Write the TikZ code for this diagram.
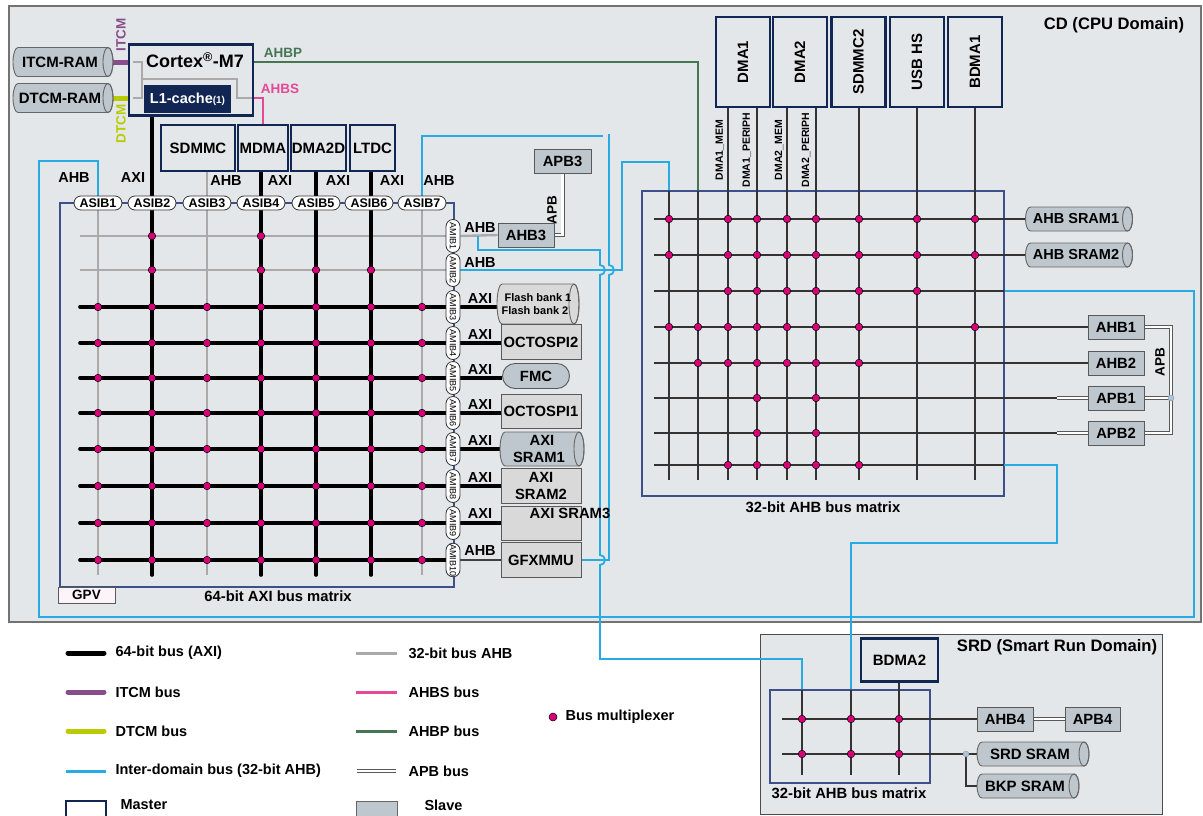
\documentclass[tikz,border=0pt]{standalone}
\usepackage{fontspec}
\usepackage{graphicx}
\setmainfont{Liberation Sans}
\usetikzlibrary{shapes.misc}
\pgfdeclarelayer{domain}
\pgfdeclarelayer{wires}
\pgfsetlayers{domain,wires,main}
\definecolor{cdbg}{RGB}{228,231,234}
\definecolor{navy}{RGB}{18,38,84}
\definecolor{mtxblue}{RGB}{62,80,140}
\definecolor{slavegray}{RGB}{217,217,217}
\definecolor{slaveblue}{RGB}{190,199,205}
\definecolor{muxred}{RGB}{214,0,120}
\definecolor{idblue}{RGB}{40,170,226}
\definecolor{itcmc}{RGB}{136,78,138}
\definecolor{dtcmc}{RGB}{186,204,0}
\definecolor{ahbsc}{RGB}{230,72,152}
\definecolor{ahbpc}{RGB}{70,118,84}
\definecolor{ahbgray}{RGB}{170,170,170}
\definecolor{gpvfill}{RGB}{252,244,248}
\definecolor{jointc}{RGB}{170,196,222}
\newcommand\bsz[2]{\fontsize{#1}{#2}\selectfont\bfseries}
\newcommand\cylnode[8]{%
  \draw[fill=#1, draw=black!60, line width=0.9pt]
    (#3-#5/2+5,#4-#6/2) -- (#3+#5/2-5,#4-#6/2)
    arc[start angle=90, end angle=-90, x radius=5pt, y radius=#6*0.5pt]
    -- (#3-#5/2+5,#4+#6/2)
    arc[start angle=270, end angle=90, x radius=5pt, y radius=#6*0.5pt] -- cycle;
  \draw[black!60, line width=0.9pt] (#3+#5/2-5,#4) ellipse[x radius=5pt, y radius=#6*0.5pt];
  \node[inner sep=0pt, align=center, font=#7, minimum width=#5, minimum height=#6] (#2) at (#3,#4) {#8\hspace*{6pt}};}
\begin{document}
\begin{tikzpicture}[x=1pt,y=-1pt,
  master/.style={draw=navy, line width=2.4pt, fill=cdbg, inner sep=0pt, align=center, font=\bsz{15}{17}},
  slave/.style={draw=black!65, line width=0.9pt, fill=slavegray, inner sep=0pt, align=center, font=\bsz{14.8}{17}},
  asib/.style={rounded rectangle, draw=black!80, line width=0.8pt, fill=white, inner sep=0pt, minimum width=48, minimum height=14, font=\bsz{12.5}{12.5}},
  amib/.style={rounded rectangle, draw=black!80, line width=0.8pt, fill=white, inner sep=0pt, minimum width=33, minimum height=14, rotate=-90, font=\fontsize{9}{9}\selectfont},
  buslbl/.style={font=\bsz{14.5}{14.5}},
  axibus/.style={line width=3.6pt, line cap=round},
  ahbbus/.style={line width=2.4pt, ahbgray},
  rbus/.style={line width=1.6pt, black!80},
  inter/.style={line width=1.8pt, idblue},
  mtx/.style={draw=mtxblue, line width=2pt},
  apbbus/.style={draw=black!65, double=white, double distance=2.4pt, line width=0.8pt},
  mux/.style={fill=muxred, draw=black, line width=0.5pt},
  legtext/.style={anchor=west, font=\bsz{14.5}{14.5}},
  mtxtitle/.style={font=\bsz{14.8}{14.8}},
]
\useasboundingbox (0,0) rectangle (1203,815);
\begin{pgfonlayer}{domain}
\fill[white] (0,0) rectangle (1203,815);
\draw[fill=cdbg, draw=black!55, line width=1.2pt] (9,6) rectangle (1201,622);
\draw[fill=cdbg, draw=black!70, line width=0.8pt] (760,634) rectangle (1162,814);
\end{pgfonlayer}

\node[font=\bsz{16.6}{16.6}] (cdtitle) at (1114,25) {CD (CPU Domain)};
\node[font=\bsz{16.6}{16.6}] (srdtitle) at (1057,647) {SRD (Smart Run Domain)};

\node[master, minimum width=124, minimum height=71] (cortex) at (191,80) {};
\draw[ahbgray, line width=1.6pt] (133,62) -| (142,98) -- (133,98) (142,79) -| (237,98) -- (252,98);
\node[font=\bsz{18}{18}] (cortexname) at (195,60) {Cortex\textsuperscript{®}-M7};
\node[fill=navy, text=white, inner sep=0pt, minimum width=87, minimum height=28, font=\bsz{14.5}{14.5}] (lcache) at (187.5,99) {L1-cache{\bsz{10}{10}(1)}};
\cylnode{slaveblue}{itcmram}{63}{62}{100}{29}{\bsz{15}{15}}{ITCM-RAM}
\cylnode{slaveblue}{dtcmram}{63}{98}{100}{29}{\bsz{15}{15}}{DTCM-RAM}
\node[rotate=90, text=itcmc, font=\bsz{13.5}{13.5}] (itcmlbl) at (121,35) {ITCM};
\node[rotate=90, text=dtcmc, font=\bsz{13.5}{13.5}] (dtcmlbl) at (121,124) {DTCM};
\node[text=ahbpc, font=\bsz{13.5}{13.5}] (ahbplbl) at (283,53) {AHBP};
\node[text=ahbsc, font=\bsz{13.5}{13.5}] (ahbslbl) at (280,89) {AHBS};

\node[master, minimum width=74, minimum height=46] (sdmmc) at (198,148) {SDMMC};
\node[master, minimum width=50, minimum height=46] (mdma) at (263,148) {MDMA};
\node[master, minimum width=55, minimum height=46] (dmatwod) at (318.5,148) {DMA2D};
\node[master, minimum width=45, minimum height=46] (ltdc) at (372.5,148) {LTDC};

\foreach \n/\x in {1/98,2/152,3/207,4/261,5/316,6/369,7/422}
  \node[asib] (asib\n) at (\x,203) {ASIB\n};
\foreach \n/\y in {1/236,2/270,3/307,4/343,5/378,6/413,7/449,8/486,9/523,10/560}
  \node[amib] (amib\n) at (453,\y) {AMIB\n};
\foreach \x/\y/\t [count=\i] in {74/178/AHB,133/178/AXI,226/181/AHB,280/181/AXI,338/181/AXI,392/181/AXI,439/181/AHB}
  \node[buslbl] (asiblbl\i) at (\x,\y) {\t};
\foreach \y/\t [count=\i] in {228/AHB,263/AHB,299/AXI,335/AXI,370/AXI,405/AXI,441/AXI,478/AXI,514/AXI,551/AHB}
  \node[buslbl] (amiblbl\i) at (480,\y) {\t};

\node[slave, fill=slaveblue, minimum width=56, minimum height=24] (ahbthree) at (526,235) {AHB3};
\node[slave, fill=slaveblue, minimum width=57, minimum height=24] (apbthree) at (562.5,161) {APB3};
\node[rotate=90, font=\bsz{13.5}{13.5}] (apbthreelbl) at (552,210) {APB};
\cylnode{slavegray}{flash}{538}{304}{82}{40}{\bsz{11}{13}}{Flash bank 1\\Flash bank 2}
\node[slave, minimum width=80, minimum height=35] (octospitwo) at (541,342) {OCTOSPI2};
\node[slave, rounded rectangle, fill=slaveblue, minimum width=67, minimum height=25] (fmc) at (536,376) {FMC};
\node[slave, minimum width=80, minimum height=34] (octospione) at (541,411) {OCTOSPI1};
\cylnode{slaveblue}{axisramone}{542}{449}{84}{34}{\bsz{14.8}{17}}{AXI\\SRAM1}
\node[slave, minimum width=80, minimum height=35] (axisramtwo) at (541,486) {AXI\\SRAM2};
\node[slave, minimum width=80, minimum height=34] (axisramthree) at (541,523) {};
\node[font=\bsz{14.8}{14.8}] (axisramthreelbl) at (570,513) {AXI SRAM3};
\node[slave, minimum width=80, minimum height=35] (gfxmmu) at (541,560) {GFXMMU};
\node[draw=black!65, line width=0.9pt, fill=gpvfill, minimum width=57, minimum height=16, inner sep=0pt, font=\bsz{13.5}{13.5}] (gpv) at (86.5,595) {GPV};
\node[mtxtitle] (axititle) at (278,596) {64-bit AXI bus matrix};

\foreach \n/\x/\t in {dmaone/743/DMA1,dmatwo/800/DMA2,sdmmctwo/858.5/SDMMC2,usbhs/917/USB HS,bdmaone/975/BDMA1}
  \node[master, minimum width=54, minimum height=90] (\n) at (\x,62) {\rotatebox{90}{\t}};
\foreach \x/\t [count=\i] in {720/DMA1\_MEM,747/DMA1\_PERIPH,779/DMA2\_MEM,806/DMA2\_PERIPH}
  \node[rotate=90, font=\bsz{10.5}{10.5}] (chlbl\i) at (\x,150) {\t};
\cylnode{slaveblue}{ahbsramone}{1079}{219}{107}{24}{\bsz{14.5}{14.5}}{AHB SRAM1}
\cylnode{slaveblue}{ahbsramtwo}{1079}{255}{107}{24}{\bsz{14.5}{14.5}}{AHB SRAM2}
\foreach \n/\y/\t in {ahbone/327/AHB1,ahbtwo/363/AHB2,apbone/398/APB1,apbtwo/433/APB2}
  \node[slave, fill=slaveblue, minimum width=56, minimum height=24] (\n) at (1116,\y) {\t};
\node[rotate=90, font=\bsz{13.5}{13.5}] (apblbl) at (1160,362) {APB};
\node[mtxtitle] (ahbtitle) at (823,507) {32-bit AHB bus matrix};

\node[master, minimum width=77, minimum height=43] (bdmatwo) at (899.5,660) {BDMA2};
\node[slave, fill=slaveblue, minimum width=56, minimum height=24] (ahbfour) at (1005,719) {AHB4};
\node[slave, fill=slaveblue, minimum width=55, minimum height=24] (apbfour) at (1092.5,719) {APB4};
\cylnode{slaveblue}{srdsram}{1033}{754}{112}{24}{\bsz{15}{15}}{SRD SRAM}
\cylnode{slaveblue}{bkpsram}{1028}{786}{102}{24}{\bsz{15}{15}}{BKP SRAM}
\node[mtxtitle] (srdmtxtitle) at (849,793) {32-bit AHB bus matrix};

\coordinate (srdtap) at (478,236);

\begin{pgfonlayer}{wires}
\draw[itcmc, line width=5pt] (itcmram.east) -- (itcmram.east -| cortex.west);
\draw[dtcmc, line width=5pt] (dtcmram.east) -- (dtcmram.east -| cortex.west);
\draw[ahbsc, line width=2pt] (cortex.east |- 0,98) -| (mdma.north);
\draw[ahbpc, line width=2pt] (cortex.east |- 0,62) -| (698,191);

\draw[mtx] (60,203) rectangle (454,587);
\foreach \y in {236,270} \draw[ahbbus] (80,\y) -- (453,\y);
\draw[ahbbus] (asib1.center) -- (98,575);
\draw[ahbbus] (sdmmc.south -| 207,0) -- (207,575);
\draw[ahbbus] (asib7.center) -- (422,575);
\draw[axibus] (lcache.south -| 152,0) -- (152,575);
\draw[axibus] (mdma.south -| 261,0) -- (261,575);
\draw[axibus] (dmatwod.south -| 316,0) -- (316,575);
\draw[axibus] (ltdc.south -| 371,0) -- (371,575);
\foreach \y in {307,343,378,413,449,486,523,560} \draw[axibus] (80,\y) -- (453,\y);

\draw[ahbbus] (amib1.north) -- (ahbthree.west);
\draw[apbbus] (ahbthree.east) -| (apbthree.south);
\foreach \n/\s in {3/flash,4/octospitwo,5/fmc,6/octospione,7/axisramone,8/axisramtwo,9/axisramthree}
  \draw[axibus, line cap=butt] (amib\n.north) -- (\s.west |- amib\n.north);
\draw[black!75, line width=2pt] (amib10.north) -- (gfxmmu.west |- amib10.north);

\draw[inter] (asib1.north) |- (39,161) |- (1194,617) |- (1004,291);
\draw[inter] (asib7.north) |- (603,136);
\draw[inter] (gfxmmu.east) -- (609,560) -- (609,275) arc[start angle=-90, end angle=90, radius=5pt] -- (609,134);
\draw[inter] (srdtap) -- (478,250) -- (600,250) -- (600,265) arc[start angle=90, end angle=-90, radius=5pt] -- (600,555) arc[start angle=90, end angle=-90, radius=5pt] -- (600,659) -| (802,690);
\draw[inter] (amib2.north) -- (622,270) |- (669,162) -- (669,191);

\draw[mtx] (642,191) rectangle (1004,496);
\foreach \x in {669,698} \draw[rbus] (\x,191) -- (\x,480);
\foreach \n/\x in {dmaone/728,dmaone/757,dmatwo/787,dmatwo/816,sdmmctwo/859,usbhs/917,bdmaone/975}
  \draw[rbus] (\n.south -| \x,0) -- (\x,480);
\draw[rbus] (654,219) -- (ahbsramone.west);
\draw[rbus] (654,255) -- (ahbsramtwo.west);
\draw[rbus] (654,291) -- (1004,291);
\draw[rbus] (654,327) -- (ahbone.west);
\draw[rbus] (654,363) -- (ahbtwo.west);
\draw[rbus] (654,398) -- (1057,398);
\draw[apbbus] (1057,398) -- (apbone.west);
\draw[rbus] (654,433) -- (1057,433);
\draw[apbbus] (1057,433) -- (apbtwo.west);
\draw[rbus] (654,465) -- (1004,465);
\draw[inter] (1004,465) -| (1057,543) -| (851,690);
\draw[apbbus] (ahbone.east) -| (1171,433) -- (apbtwo.east);
\draw[apbbus] (apbone.east) -- (1171,398);

\draw[mtx] (770,690) rectangle (930,783);
\draw[rbus] (802,690) -- (802,775);
\draw[rbus] (851,690) -- (851,775);
\draw[rbus] (bdmatwo.south -| 899,0) -- (899,775);
\draw[rbus] (782,719) -- (ahbfour.west);
\draw[rbus] (782,754) -- (srdsram.west);
\draw[rbus] (966,754) |- (bkpsram.west);
\draw[apbbus] (ahbfour.east) -- (apbfour.west);
\end{pgfonlayer}

\foreach \x in {152,261} \path[mux] (\x,236) circle[radius=3.8pt];
\foreach \x in {152,261,316,371} \path[mux] (\x,270) circle[radius=3.8pt];
\foreach \y in {307,343,378,413,449,486,523,560}
  \foreach \x in {98,152,207,261,316,371,422} \path[mux] (\x,\y) circle[radius=3.8pt];
\foreach \y/\xs in {219/{669,728,757,787,816,859,917,975},255/{669,728,757,787,816,859,917,975},291/{728,757,787,816,859,917},327/{669,698,728,757,787,816,859,975},363/{698,728,757,787,816,859},398/{757,816},433/{757,816},465/{728,757,787,816,859}}
  \foreach \x in \xs \path[mux] (\x,\y) circle[radius=3.8pt];
\foreach \y in {719,754}
  \foreach \x in {802,851,899} \path[mux] (\x,\y) circle[radius=3.8pt];
\path[fill=jointc, draw=black!40] (966,754) circle[radius=3pt];
\path[fill=jointc, draw=black!40] (1171,398) circle[radius=3pt];

\draw[black, line width=5pt, line cap=round] (68,653) -- (104,653);
\draw[itcmc, line width=5pt, line cap=round] (68,692) -- (104,692);
\draw[dtcmc, line width=5pt, line cap=round] (68,731) -- (104,731);
\draw[idblue, line width=3pt] (66,771) -- (106,771);
\draw[navy, line width=2.4pt] (66,801) rectangle (106,830);
\draw[ahbgray, line width=3pt] (356,653) -- (397,653);
\draw[ahbsc, line width=3pt] (356,692) -- (397,692);
\draw[ahbpc, line width=3pt] (356,731) -- (397,731);
\draw[apbbus] (357,771) -- (396,771);
\draw[fill=slaveblue, draw=black!60, line width=0.9pt] (356,801) rectangle (397,830);
\path[mux] (553,717) circle[radius=4pt];
\node[legtext] (legaxi) at (112,653) {64-bit bus (AXI)};
\node[legtext] (legitcm) at (112,692) {ITCM bus};
\node[legtext] (legdtcm) at (112,731) {DTCM bus};
\node[legtext] (leginter) at (112,771) {Inter-domain bus (32-bit AHB)};
\node[legtext] (legmaster) at (117,805) {Master};
\node[legtext] (legahb) at (405,653) {32-bit bus AHB};
\node[legtext] (legahbs) at (405,692) {AHBS bus};
\node[legtext] (legahbp) at (405,731) {AHBP bus};
\node[legtext] (legapb) at (405,771) {APB bus};
\node[legtext] (legslave) at (421,805) {Slave};
\node[legtext] (legmux) at (562,717) {Bus multiplexer};
\end{tikzpicture}
\end{document}
